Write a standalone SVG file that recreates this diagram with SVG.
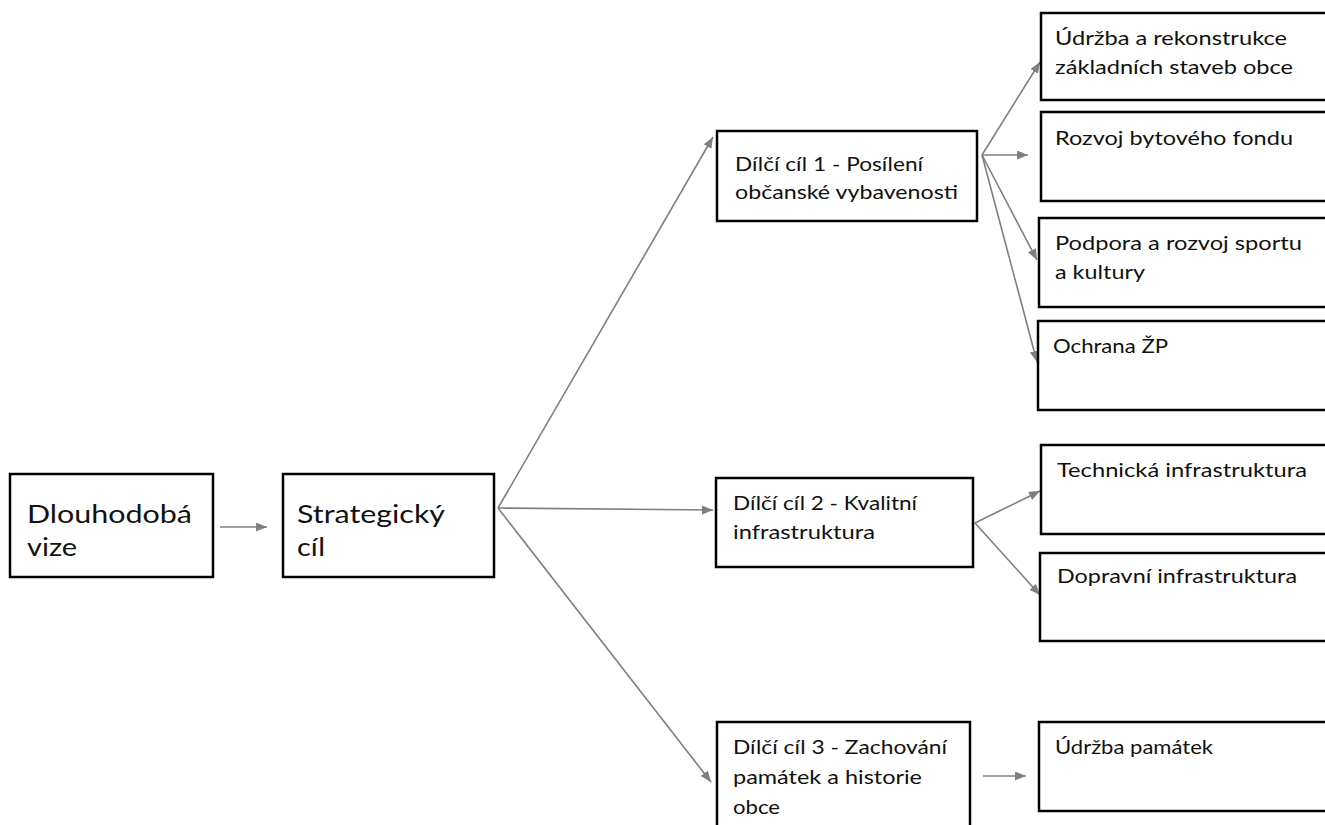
<svg xmlns="http://www.w3.org/2000/svg" width="1325" height="825" viewBox="0 0 1325 825">
<defs>
<style>
.box{fill:#fff;stroke:#000;stroke-width:2.5}
.t{font-family:Lato,"Open Sans","Liberation Sans",sans-serif;font-size:19px;fill:#111}
.tl{font-family:Lato,"Open Sans","Liberation Sans",sans-serif;font-size:25px;fill:#111}
.c{stroke:#7f7f7f;stroke-width:1.6;fill:none;marker-end:url(#ah)}
</style>
<marker id="ah" markerUnits="userSpaceOnUse" markerWidth="12" markerHeight="10" refX="11" refY="4.5" orient="auto">
<path d="M0,0 L11,4.5 L0,9 z" fill="#7f7f7f"/>
</marker>
</defs>
<rect width="1325" height="825" fill="#fff"/>
<g id="connectors">
<line class="c" x1="220" y1="527" x2="267" y2="527"/>
<line class="c" x1="498" y1="508" x2="713" y2="137"/>
<line class="c" x1="498" y1="508" x2="713" y2="510"/>
<line class="c" x1="498" y1="508" x2="711" y2="782"/>
<line class="c" x1="982" y1="155" x2="1040" y2="62"/>
<line class="c" x1="982" y1="155" x2="1028" y2="155"/>
<line class="c" x1="982" y1="155" x2="1037" y2="260"/>
<line class="c" x1="982" y1="155" x2="1037" y2="362"/>
<line class="c" x1="975" y1="523" x2="1040" y2="491"/>
<line class="c" x1="975" y1="523" x2="1040" y2="595"/>
<line class="c" x1="983" y1="776" x2="1026" y2="776"/>
</g>
<g id="vize"><rect class="box" x="10" y="474" width="203" height="103"/>
<text class="tl" x="27" y="523" textLength="165" lengthAdjust="spacingAndGlyphs">Dlouhodobá</text>
<text class="tl" x="27" y="556" textLength="50" lengthAdjust="spacingAndGlyphs">vize</text></g>
<g id="strategicky"><rect class="box" x="283" y="474" width="211" height="103"/>
<text class="tl" x="297" y="523" textLength="148" lengthAdjust="spacingAndGlyphs">Strategický</text>
<text class="tl" x="297" y="556" textLength="28" lengthAdjust="spacingAndGlyphs">cíl</text></g>
<g id="dilci1"><rect class="box" x="717" y="131" width="260" height="90"/>
<text class="t" x="735" y="171" textLength="188" lengthAdjust="spacingAndGlyphs">Dílčí cíl 1 - Posílení</text>
<text class="t" x="735" y="199" textLength="223" lengthAdjust="spacingAndGlyphs">občanské vybavenosti</text></g>
<g id="dilci2"><rect class="box" x="716" y="478" width="257" height="89"/>
<text class="t" x="733" y="510" textLength="184" lengthAdjust="spacingAndGlyphs">Dílčí cíl 2 - Kvalitní</text>
<text class="t" x="733" y="539" textLength="142" lengthAdjust="spacingAndGlyphs">infrastruktura</text></g>
<g id="dilci3"><rect class="box" x="717" y="722" width="253" height="110"/>
<text class="t" x="733" y="754" textLength="214" lengthAdjust="spacingAndGlyphs">Dílčí cíl 3 - Zachování</text>
<text class="t" x="733" y="784" textLength="189" lengthAdjust="spacingAndGlyphs">památek a historie</text>
<text class="t" x="733" y="814" textLength="47" lengthAdjust="spacingAndGlyphs">obce</text></g>
<g id="udrzba"><rect class="box" x="1041" y="13" width="300" height="87"/>
<text class="t" x="1055" y="45" textLength="232" lengthAdjust="spacingAndGlyphs">Údržba a rekonstrukce</text>
<text class="t" x="1055" y="74" textLength="238" lengthAdjust="spacingAndGlyphs">základních staveb obce</text></g>
<g id="rozvoj"><rect class="box" x="1041" y="112" width="300" height="89"/>
<text class="t" x="1055" y="145" textLength="238" lengthAdjust="spacingAndGlyphs">Rozvoj bytového fondu</text></g>
<g id="podpora"><rect class="box" x="1039" y="218" width="300" height="89"/>
<text class="t" x="1055" y="250" textLength="247" lengthAdjust="spacingAndGlyphs">Podpora a rozvoj sportu</text>
<text class="t" x="1055" y="279" textLength="90" lengthAdjust="spacingAndGlyphs">a kultury</text></g>
<g id="ochrana"><rect class="box" x="1038" y="321" width="300" height="89"/>
<text class="t" x="1053" y="353" textLength="115" lengthAdjust="spacingAndGlyphs">Ochrana ŽP</text></g>
<g id="technicka"><rect class="box" x="1041" y="445" width="300" height="89"/>
<text class="t" x="1057" y="477" textLength="250" lengthAdjust="spacingAndGlyphs">Technická infrastruktura</text></g>
<g id="dopravni"><rect class="box" x="1040" y="553" width="300" height="88"/>
<text class="t" x="1057" y="583" textLength="240" lengthAdjust="spacingAndGlyphs">Dopravní infrastruktura</text></g>
<g id="pamatky"><rect class="box" x="1039" y="722" width="300" height="89"/>
<text class="t" x="1055" y="754" textLength="158" lengthAdjust="spacingAndGlyphs">Údržba památek</text></g>
</svg>
